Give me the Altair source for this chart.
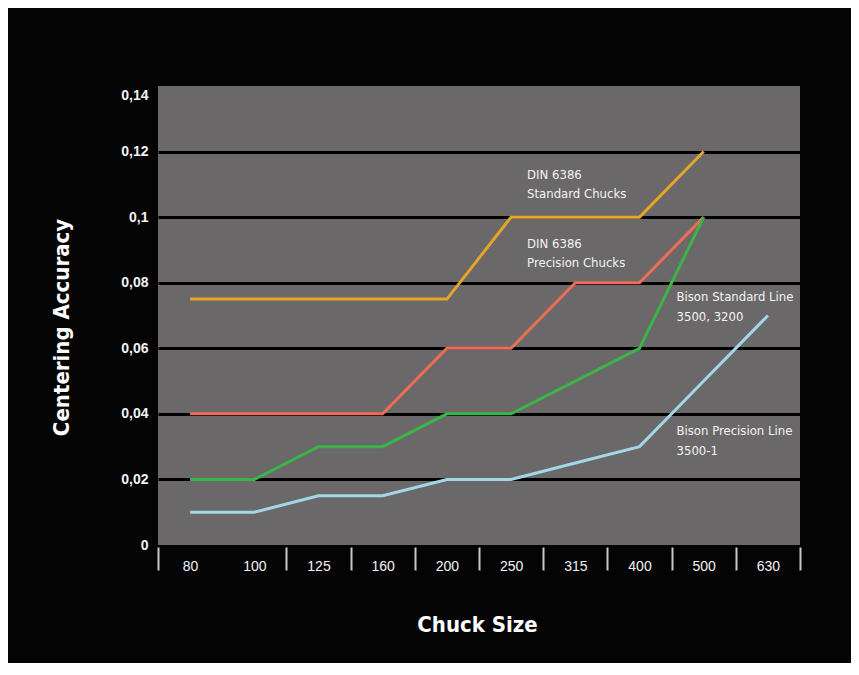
import altair as alt
import pandas as pd

# ---- data ----
sizes = ["80", "100", "125", "160", "200", "250", "315", "400", "500", "630"]
series_names = [
    "DIN 6386 Standard Chucks",
    "DIN 6386 Precision Chucks",
    "Bison Standard Line 3500, 3200",
    "Bison Precision Line 3500-1",
]
din_standard = [0.075, 0.075, 0.075, 0.075, 0.075, 0.10, 0.10, 0.10, 0.12, None]
din_precision = [0.04, 0.04, 0.04, 0.04, 0.06, 0.06, 0.08, 0.08, 0.10, None]
bison_standard = [0.02, 0.02, 0.03, 0.03, 0.04, 0.04, 0.05, 0.06, 0.10, None]
bison_precision = [0.01, 0.01, 0.015, 0.015, 0.02, 0.02, 0.025, 0.03, 0.05, 0.07]
series_colors = ["#e3a52b", "#ef6d57", "#3db447", "#a3d6e6"]

y_ticks = [0, 0.02, 0.04, 0.06, 0.08, 0.10, 0.12, 0.14]

# annotation texts (two lines each) with their anchor category and value
ann_left_text = ["DIN 6386", "Standard Chucks", "DIN 6386", "Precision Chucks"]
ann_left_size = ["250", "250", "250", "250"]
ann_left_y = [0.1129, 0.1071, 0.0918, 0.0860]
ann_right_text = ["Bison Standard Line", "3500, 3200", "Bison Precision Line", "3500-1"]
ann_right_size = ["400", "400", "400", "400"]
ann_right_y = [0.0756, 0.0695, 0.0348, 0.0287]

rows = []
for name, vals in zip(series_names, [din_standard, din_precision, bison_standard, bison_precision]):
    for s, v in zip(sizes, vals):
        if v is not None:
            rows.append({"size": s, "accuracy": v, "series": name})
df = pd.DataFrame(rows)

ann_left = pd.DataFrame({"size": ann_left_size, "accuracy": ann_left_y, "text": ann_left_text})
ann_right = pd.DataFrame({"size": ann_right_size, "accuracy": ann_right_y, "text": ann_right_text})

COND = "DejaVu Sans Condensed, Liberation Sans Narrow, Liberation Sans, sans-serif"
REG = "Liberation Sans, Arial, sans-serif"

x_enc = alt.X(
    "size:N",
    sort=sizes,
    scale=alt.Scale(domain=sizes, paddingInner=0, paddingOuter=0),
    axis=alt.Axis(
        title="Chuck Size",
        domain=False,
        grid=False,
        ticks=True,
        tickBand="extent",
        tickExtra=False,
        tickSize=23,
        tickWidth=2,
        tickColor="#c8c8c8",
        tickOpacity=alt.condition("datum.value == '80'", alt.value(0), alt.value(1)),
        offset=2,
        labelAngle=0,
        labelPadding=-11,
        labelColor="#f2f2f2",
        labelFont=REG,
        labelFontSize=14,
        titleFont=COND,
        titleFontSize=22,
        titleFontWeight="bold",
        titleColor="#ffffff",
        titleX=319,
        titleY=77,
        titleAnchor="middle",
        titleAlign="center",
        titleBaseline="middle",
    ),
)

y_enc = alt.Y(
    "accuracy:Q",
    scale=alt.Scale(domain=[0, 0.14], nice=False, zero=True),
    axis=alt.Axis(
        title="Centering Accuracy",
        values=y_ticks,
        labelExpr="replace(format(datum.value, '.2~f'), '.', ',')",
        domain=False,
        ticks=False,
        tickSize=0,
        grid=True,
        gridColor="#000000",
        gridWidth=3,
        gridOpacity=alt.condition("datum.value > 0.13 || datum.value < 0.01", alt.value(0), alt.value(1)),
        labelPadding=10,
        labelOffset=alt.condition("datum.value > 0.13", alt.value(9), alt.value(0)),
        labelColor="#f2f2f2",
        labelFont=REG,
        labelFontSize=14,
        labelFontWeight="bold",
        titleFont=COND,
        titleFontSize=22,
        titleFontWeight="bold",
        titleColor="#ffffff",
        titleAngle=-90,
        titleX=-97,
        titleY=241,
        titleAlign="center",
        titleBaseline="middle",
    ),
)

lines = alt.Chart(df).mark_line(strokeWidth=3).encode(
    x=x_enc,
    y=y_enc,
    color=alt.Color("series:N", scale=alt.Scale(domain=series_names, range=series_colors), legend=None),
    detail="series:N",
)

text_left = alt.Chart(ann_left).mark_text(
    align="left", baseline="middle", dx=16, font=COND, fontSize=13, color="#f4f4f4"
).encode(x=alt.X("size:N", sort=sizes), y="accuracy:Q", text="text:N")

text_right = alt.Chart(ann_right).mark_text(
    align="left", baseline="middle", dx=37, font=COND, fontSize=13, color="#f4f4f4"
).encode(x=alt.X("size:N", sort=sizes), y="accuracy:Q", text="text:N")

chart = (
    alt.layer(lines, text_left, text_right)
    .properties(
        width=642,
        height=459,
        autosize=alt.AutoSizeParams(type="none"),
        padding={"left": 150, "top": 78, "right": 51, "bottom": 118},
        background="#040404",
    )
    .configure_view(fill="#6a6868", stroke=None)
)

chart.save("out.html", embed_options={"renderer": "svg", "actions": False})
